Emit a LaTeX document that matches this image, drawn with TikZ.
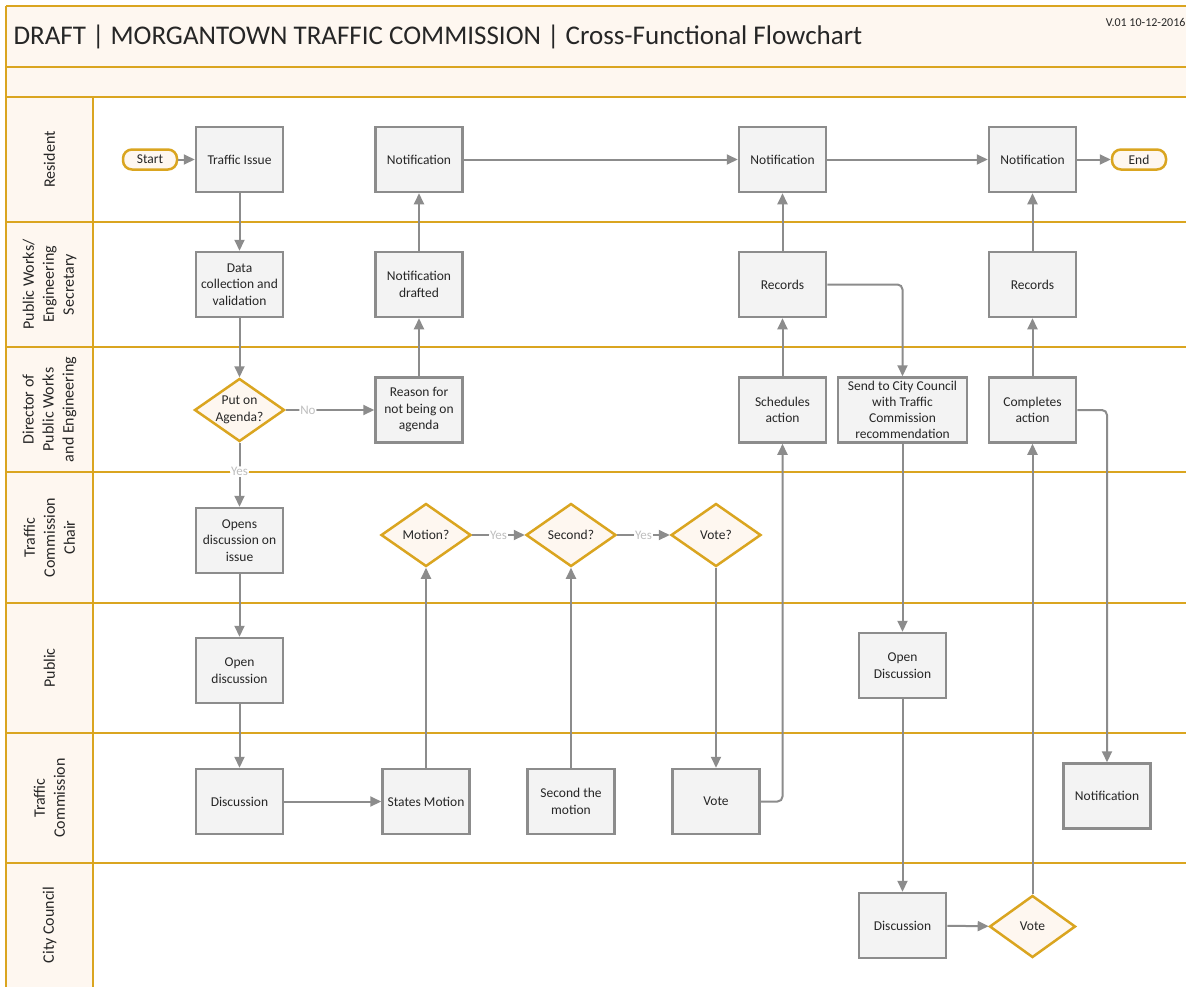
\documentclass[tikz,border=0pt]{standalone}
\usepackage{fontspec}
\setmainfont{Carlito}
\usetikzlibrary{arrows.meta,shapes.geometric,positioning}

\definecolor{lanegold}{RGB}{218,165,32}
\definecolor{lanefill}{RGB}{254,247,240}
\definecolor{linegray}{RGB}{140,140,140}
\definecolor{boxfill}{RGB}{243,243,243}
\definecolor{labelgray}{RGB}{190,190,190}
\definecolor{textdark}{RGB}{38,38,38}

\tikzset{
  lane/.style={draw=lanegold,line width=2.5pt},
  lanelabel/.style={rotate=90,align=center,text=textdark,font=\fontsize{16}{20}\selectfont},
  process/.style={draw=linegray,fill=boxfill,line width=2.5pt,minimum width=87pt,minimum height=65pt,
    align=center,inner sep=2pt,text=textdark,font=\fontsize{13.5}{16.5}\selectfont},
  decision/.style={diamond,draw=lanegold,fill=lanefill,line width=2.5pt,aspect=1.4,inner sep=0pt,
    minimum width=90pt,minimum height=63pt,align=center,text=textdark,font=\fontsize{13.5}{16.5}\selectfont},
  terminal/.style={draw=lanegold,fill=lanefill,line width=2.5pt,rounded corners=9pt,minimum width=54pt,
    minimum height=20pt,inner sep=1pt,text=textdark,font=\fontsize{13.5}{16}\selectfont},
  flow/.style={draw=linegray,line width=2pt,rounded corners=5pt,-{Triangle[length=11pt,width=10pt]}},
  answer/.style={fill=white,text=labelgray,inner sep=1pt,font=\fontsize{13}{15}\selectfont}
}

\begin{document}
\begin{tikzpicture}[x=1pt,y=-1pt]
\clip (0,0) rectangle (1186,986);
\fill[white] (0,0) rectangle (1186,986);

% header bands and lane column
\fill[lanefill] (6,6) rectangle (1195,97);
\fill[lanefill] (6,97) rectangle (93,995);
\draw[lane] (6,6) -- (1195,6);
\draw[lane] (6,67) -- (1195,67);
\draw[lane] (6,97) -- (1195,97);
\draw[lane] (6,222) -- (1195,222);
\draw[lane] (6,347) -- (1195,347);
\draw[lane] (6,472) -- (1195,472);
\draw[lane] (6,603) -- (1195,603);
\draw[lane] (6,733) -- (1195,733);
\draw[lane] (6,863) -- (1195,863);
\draw[lane] (6,6) -- (6,995);
\draw[lane] (93,97) -- (93,995);

\node[anchor=west,text=textdark,font=\fontsize{27}{32}\selectfont] (title) at (10,37)
  {DRAFT | MORGANTOWN TRAFFIC COMMISSION | Cross-Functional Flowchart};
\node[anchor=east,text=textdark,font=\fontsize{12}{14}\selectfont] (version) at (1189,22) {V.01 10-12-2016};

% lane names
\node[lanelabel] (resident) at (49.5,159.5) {Resident};
\node[lanelabel] (secretary) at (49.5,284.5) {Public Works/\\Engineering\\Secretary};
\node[lanelabel] (director) at (49.5,409.5) {Director of\\Public Works\\and Engineering};
\node[lanelabel] (chair) at (49.5,537.5) {Traffic\\Commission\\Chair};
\node[lanelabel] (public) at (49.5,668) {Public};
\node[lanelabel] (commission) at (49.5,798) {Traffic\\Commission};
\node[lanelabel] (council) at (49.5,925) {City Council};

% resident
\node[terminal] (start) at (150,159.5) {Start};
\node[process] (issue) at (239.5,159.5) {Traffic Issue};
\node[process] (notifA) at (419,159.5) {Notification};
\node[process] (notifB) at (782.5,159.5) {Notification};
\node[process] (notifC) at (1032.5,159.5) {Notification};
\node[terminal] (stop) at (1139,159.5) {End};

% secretary
\node[process] (data) at (239.5,284.5) {Data\\collection and\\validation};
\node[process] (drafted) at (419,284.5) {Notification\\drafted};
\node[process] (recordsA) at (782.5,284.5) {Records};
\node[process] (recordsB) at (1032.5,284.5) {Records};

% director
\node[decision] (agenda) at (239.5,410) {Put on\\Agenda?};
\node[process] (reason) at (419,410) {Reason for\\not being on\\agenda};
\node[process] (schedules) at (782.5,410) {Schedules\\action};
\node[process,minimum width=129pt,inner sep=1pt,font=\fontsize{13.5}{16}\selectfont] (send) at (902.5,410)
  {Send to City Council\\with Traffic\\Commission\\recommendation};
\node[process] (completes) at (1032.5,410) {Completes\\action};

% chair
\node[process] (opens) at (239.5,540.5) {Opens\\discussion on\\issue};
\node[decision] (motion) at (426,535) {Motion?};
\node[decision] (second) at (571,535) {Second?};
\node[decision] (voteq) at (716,535) {Vote?};

% public
\node[process] (openA) at (239.5,670.5) {Open\\discussion};
\node[process] (openB) at (902.5,665.5) {Open\\Discussion};

% commission
\node[process] (discA) at (239.5,801.5) {Discussion};
\node[process] (states) at (426,801.5) {States Motion};
\node[process] (seconds) at (571,801.5) {Second the\\motion};
\node[process] (vote) at (716,801.5) {Vote};
\node[process] (notifD) at (1107,796) {Notification};

% council
\node[process] (discB) at (902.5,925.5) {Discussion};
\node[decision,minimum width=86pt,minimum height=62pt] (ccvote) at (1032.5,926.5) {Vote};

% connectors
\draw[flow] (start) -- (issue);
\draw[flow] (issue) -- (data);
\draw[flow] (data) -- (agenda);
\draw[flow] (agenda) -- node[answer,pos=0.25] {No} (reason);
\draw[flow] (agenda) -- node[answer,pos=0.45] {Yes} (opens);
\draw[flow] (reason) -- (drafted);
\draw[flow] (drafted) -- (notifA);
\draw[flow] (notifA) -- (notifB);
\draw[flow] (notifB) -- (notifC);
\draw[flow] (notifC) -- (stop);
\draw[flow] (opens) -- (openA);
\draw[flow] (openA) -- (discA);
\draw[flow] (discA) -- (states);
\draw[flow] (states) -- (motion);
\draw[flow] (motion) -- node[answer] {Yes} (second);
\draw[flow] (second) -- node[answer] {Yes} (voteq);
\draw[flow] (seconds) -- (second);
\draw[flow] (voteq) -- (vote);
\draw[flow] (vote.east) -| (schedules.south);
\draw[flow] (schedules) -- (recordsA);
\draw[flow] (recordsA) -- (notifB);
\draw[flow] (recordsA.east) -| (send.north);
\draw[flow] (send) -- (openB);
\draw[flow] (openB) -- (discB);
\draw[flow] (discB) -- (ccvote);
\draw[flow] (ccvote) -- (completes);
\draw[flow] (completes) -- (recordsB);
\draw[flow] (recordsB) -- (notifC);
\draw[flow] (completes.east) -| (notifD.north);
\end{tikzpicture}
\end{document}
